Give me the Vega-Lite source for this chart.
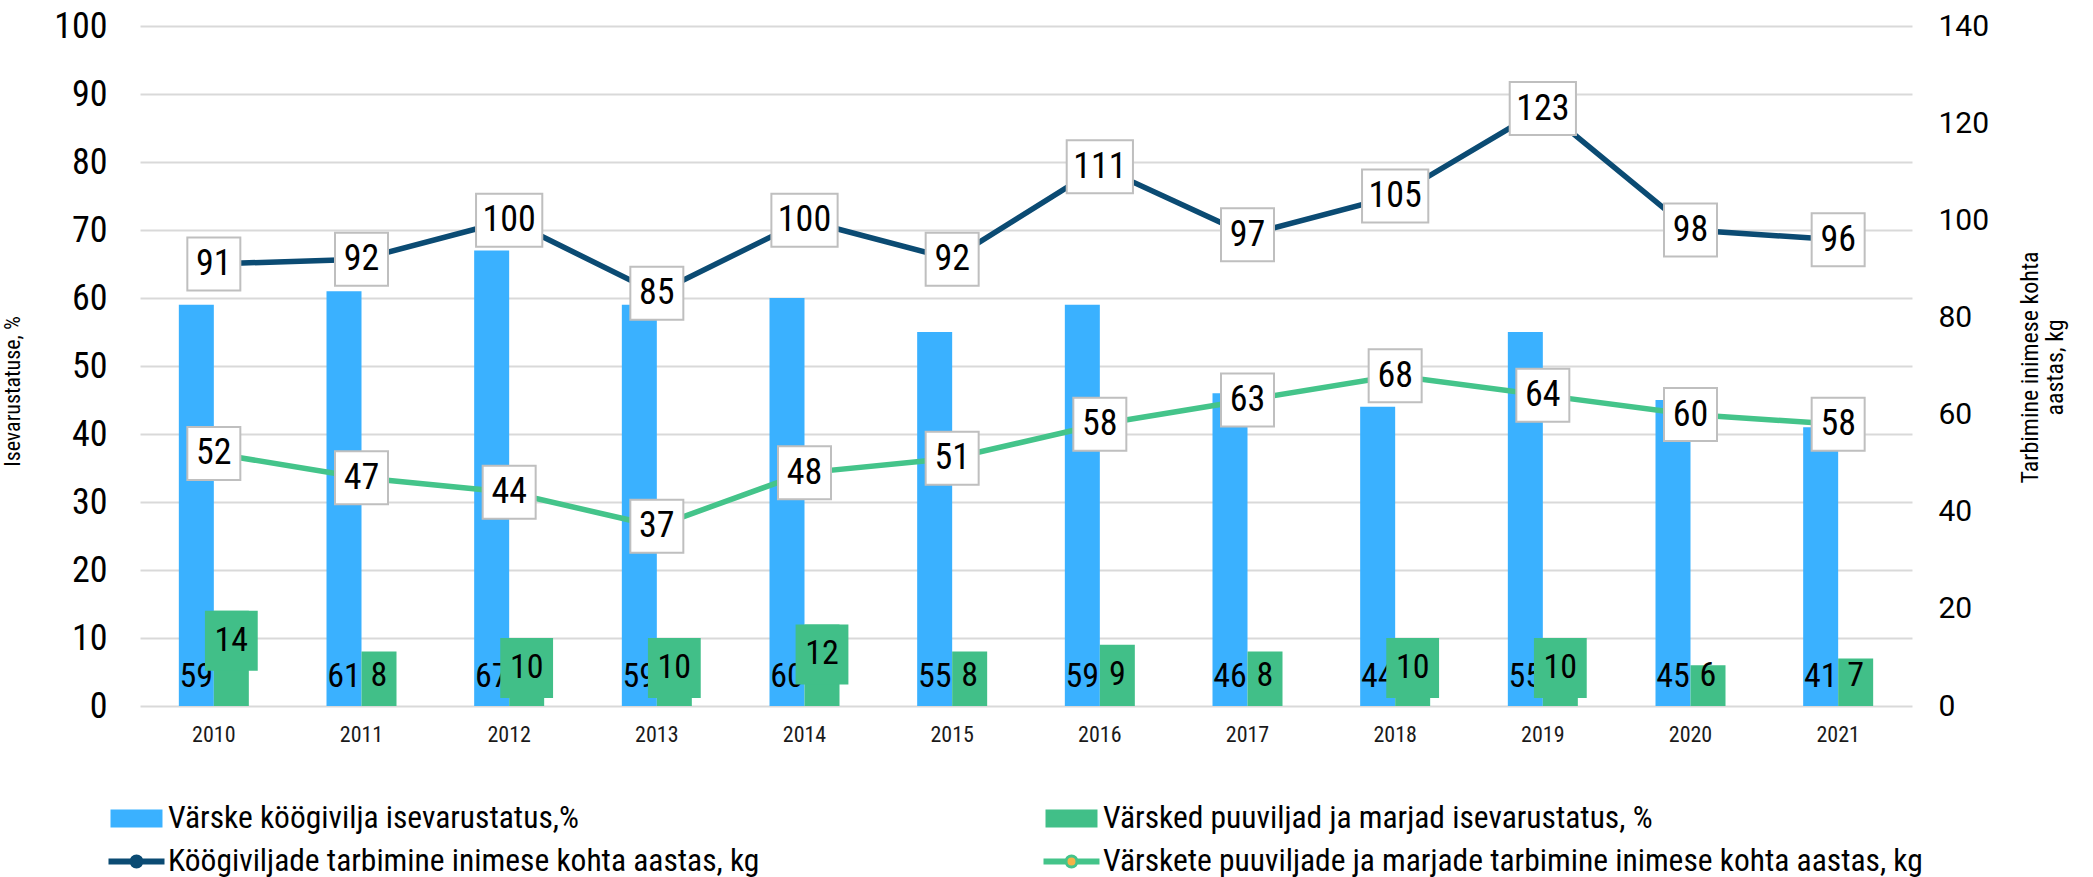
{
  "$schema": "https://vega.github.io/schema/vega-lite/v6.json",
  "width": 1772,
  "height": 680,
  "autosize": {"type": "none"},
  "padding": {"left": 140, "top": 26, "right": 181, "bottom": 171},
  "background": "white",
  "config": {
    "view": {"stroke": null},
    "font": "Roboto Condensed, Liberation Sans Narrow, DejaVu Sans Condensed, sans-serif"
  },
  "datasets": {
    "main": [
      {"year": "2010", "veg": 59, "fruit": 14, "vegc": 91, "fruitc": 52},
      {"year": "2011", "veg": 61, "fruit": 8, "vegc": 92, "fruitc": 47},
      {"year": "2012", "veg": 67, "fruit": 10, "vegc": 100, "fruitc": 44},
      {"year": "2013", "veg": 59, "fruit": 10, "vegc": 85, "fruitc": 37},
      {"year": "2014", "veg": 60, "fruit": 12, "vegc": 100, "fruitc": 48},
      {"year": "2015", "veg": 55, "fruit": 8, "vegc": 92, "fruitc": 51},
      {"year": "2016", "veg": 59, "fruit": 9, "vegc": 111, "fruitc": 58},
      {"year": "2017", "veg": 46, "fruit": 8, "vegc": 97, "fruitc": 63},
      {"year": "2018", "veg": 44, "fruit": 10, "vegc": 105, "fruitc": 68},
      {"year": "2019", "veg": 55, "fruit": 10, "vegc": 123, "fruitc": 64},
      {"year": "2020", "veg": 45, "fruit": 6, "vegc": 98, "fruitc": 60},
      {"year": "2021", "veg": 41, "fruit": 7, "vegc": 96, "fruitc": 58}
    ],
    "series": [
      {"series": "Värske köögivilja isevarustatus,%"},
      {"series": "Värsked puuviljad ja marjad isevarustatus, %"},
      {"series": "Köögiviljade tarbimine inimese kohta aastas, kg"},
      {"series": "Värskete puuviljade ja marjade tarbimine inimese kohta aastas, kg"}
    ]
  },
  "data": {"name": "main"},
  "encoding": {
    "x": {
      "field": "year",
      "type": "nominal",
      "scale": {
        "domain": ["2010", "2011", "2012", "2013", "2014", "2015", "2016", "2017", "2018", "2019", "2020", "2021"],
        "paddingInner": 0,
        "paddingOuter": 0
      },
      "axis": {
        "title": null,
        "labelAngle": 0,
        "labelFontSize": 22,
        "labelColor": "#1a1a1a",
        "labelPadding": 18,
        "ticks": false,
        "domain": false,
        "grid": false
      }
    }
  },
  "layer": [
    {
      "mark": {"type": "bar", "width": 35, "xOffset": -17.5, "color": "#3AB1FF"},
      "encoding": {
        "y": {
          "field": "veg",
          "type": "quantitative",
          "scale": {"domain": [0, 100]},
          "axis": {
            "title": "Isevarustatuse, %",
            "titleFontSize": 22,
            "titleFontWeight": "normal",
            "titleColor": "black",
            "titleX": -116,
            "titleY": 365,
            "values": [0, 10, 20, 30, 40, 50, 60, 70, 80, 90, 100],
            "labelFontSize": 36,
            "labelColor": "black",
            "labelPadding": 33,
            "ticks": false,
            "domain": false,
            "grid": true,
            "gridColor": "#d9d9d9",
            "gridWidth": 2
          }
        }
      }
    },
    {
      "mark": {"type": "text", "xOffset": -17.5, "dy": -19, "baseline": "alphabetic", "fontSize": 34, "color": "black"},
      "encoding": {
        "y": {"datum": 0, "type": "quantitative", "scale": {"domain": [0, 100]}, "axis": null},
        "text": {"field": "veg", "type": "quantitative"}
      }
    },
    {
      "mark": {"type": "bar", "width": 35, "xOffset": 17.5, "color": "#41BF88"},
      "encoding": {
        "y": {"field": "fruit", "type": "quantitative", "scale": {"domain": [0, 100]}, "axis": null}
      }
    },
    {
      "transform": [{"filter": "datum.fruit >= 10"}],
      "mark": {
        "type": "point",
        "filled": true,
        "opacity": 1,
        "color": "#41BF88",
        "xOffset": 17.5,
        "yOffset": 30,
        "size": 3600,
        "shape": "M-0.88,-1H0.88V1H-0.88Z"
      },
      "encoding": {
        "y": {"field": "fruit", "type": "quantitative", "scale": {"domain": [0, 100]}, "axis": null}
      }
    },
    {
      "transform": [{"filter": "datum.fruit >= 9"}],
      "mark": {"type": "text", "xOffset": 17.5, "dy": 30, "baseline": "middle", "fontSize": 34, "color": "black"},
      "encoding": {
        "y": {"field": "fruit", "type": "quantitative", "scale": {"domain": [0, 100]}, "axis": null},
        "text": {"field": "fruit", "type": "quantitative"}
      }
    },
    {
      "transform": [{"filter": "datum.fruit < 9"}],
      "mark": {"type": "text", "xOffset": 17.5, "dy": -30, "baseline": "middle", "fontSize": 34, "color": "black"},
      "encoding": {
        "y": {"datum": 0, "type": "quantitative", "scale": {"domain": [0, 100]}, "axis": null},
        "text": {"field": "fruit", "type": "quantitative"}
      }
    },
    {
      "mark": {"type": "line", "color": "#0B4B73", "strokeWidth": 5.5},
      "encoding": {
        "y": {
          "field": "vegc",
          "type": "quantitative",
          "scale": {"domain": [0, 140]},
          "axis": {
            "orient": "right",
            "title": ["Tarbimine  inimese kohta", "aastas, kg"],
            "titleFontSize": 24,
            "titleFontWeight": "normal",
            "titleColor": "black",
            "titleAngle": 270,
            "titleBaseline": "middle",
            "titleLineHeight": 25,
            "titleX": 118,
            "titleY": 341,
            "values": [0, 20, 40, 60, 80, 100, 120, 140],
            "labelFont": "Roboto",
            "labelFontSize": 30,
            "labelColor": "black",
            "labelPadding": 26,
            "ticks": false,
            "domain": false,
            "grid": false
          }
        }
      }
    },
    {
      "mark": {"type": "line", "color": "#44C48A", "strokeWidth": 5.5},
      "encoding": {
        "y": {"field": "fruitc", "type": "quantitative", "scale": {"domain": [0, 140]}, "axis": null}
      }
    },
    {
      "mark": {"type": "point", "filled": true, "opacity": 1, "fill": "white", "stroke": "#bfbfbf", "strokeWidth": 2, "size": 2809},
      "encoding": {
        "y": {"field": "vegc", "type": "quantitative", "scale": {"domain": [0, 140]}, "axis": null},
        "shape": {"condition": {"test": "datum.vegc >= 100", "value": "M-1.25,-1H1.25V1H-1.25Z"}, "value": "M-1,-1H1V1H-1Z"}
      }
    },
    {
      "mark": {"type": "text", "baseline": "middle", "fontSize": 36, "color": "black"},
      "encoding": {
        "y": {"field": "vegc", "type": "quantitative", "scale": {"domain": [0, 140]}, "axis": null},
        "text": {"field": "vegc", "type": "quantitative"}
      }
    },
    {
      "mark": {"type": "point", "filled": true, "opacity": 1, "fill": "white", "stroke": "#bfbfbf", "strokeWidth": 2, "size": 2809, "shape": "M-1,-1H1V1H-1Z"},
      "encoding": {
        "y": {"field": "fruitc", "type": "quantitative", "scale": {"domain": [0, 140]}, "axis": null}
      }
    },
    {
      "mark": {"type": "text", "baseline": "middle", "fontSize": 36, "color": "black"},
      "encoding": {
        "y": {"field": "fruitc", "type": "quantitative", "scale": {"domain": [0, 140]}, "axis": null},
        "text": {"field": "fruitc", "type": "quantitative"}
      }
    },
    {
      "data": {"name": "series"},
      "mark": {"type": "point", "filled": true, "opacity": 0},
      "encoding": {
        "x": {"value": 0},
        "y": {"value": 0},
        "color": {
          "field": "series",
          "type": "nominal",
          "scale": {
            "domain": [
              "Värske köögivilja isevarustatus,%",
              "Köögiviljade tarbimine inimese kohta aastas, kg",
              "Värsked puuviljad ja marjad isevarustatus, %",
              "Värskete puuviljade ja marjade tarbimine inimese kohta aastas, kg"
            ],
            "range": ["#3AB1FF", "#0B4B73", "#41BF88", "#F5B247"]
          },
          "legend": {
            "orient": "none",
            "legendX": -31,
            "legendY": 765,
            "columns": 2,
            "title": null,
            "symbolOpacity": 1,
            "symbolSize": 2704,
            "symbolStrokeWidth": 3,
            "labelFontSize": 31.5,
            "labelColor": "black",
            "labelLimit": 1000,
            "labelOffset": 4,
            "columnPadding": 277,
            "rowPadding": 0
          }
        },
        "stroke": {
          "field": "series",
          "type": "nominal",
          "scale": {
            "domain": [
              "Värske köögivilja isevarustatus,%",
              "Köögiviljade tarbimine inimese kohta aastas, kg",
              "Värsked puuviljad ja marjad isevarustatus, %",
              "Värskete puuviljade ja marjade tarbimine inimese kohta aastas, kg"
            ],
            "range": ["#3AB1FF", "#0B4B73", "#41BF88", "#44C48A"]
          },
          "legend": {
            "orient": "none",
            "legendX": -31,
            "legendY": 765,
            "columns": 2,
            "title": null,
            "symbolOpacity": 1,
            "symbolSize": 2704,
            "symbolStrokeWidth": 3,
            "labelFontSize": 31.5,
            "labelColor": "black",
            "labelLimit": 1000,
            "labelOffset": 4,
            "columnPadding": 277,
            "rowPadding": 0
          }
        },
        "shape": {
          "field": "series",
          "type": "nominal",
          "scale": {
            "domain": [
              "Värske köögivilja isevarustatus,%",
              "Köögiviljade tarbimine inimese kohta aastas, kg",
              "Värsked puuviljad ja marjad isevarustatus, %",
              "Värskete puuviljade ja marjade tarbimine inimese kohta aastas, kg"
            ],
            "range": [
              "M-0.942,-0.288H0.942V0.288H-0.942Z",
              "M-1.077,-0.058H-0.21 M-1.077,0.058H-0.21 M0.21,-0.058H1.077 M0.21,0.058H1.077 M0.2115,0A0.2115,0.2115 0 1,1 -0.2115,0A0.2115,0.2115 0 1,1 0.2115,0Z",
              "M-0.942,-0.288H0.942V0.288H-0.942Z",
              "M-1.077,-0.058H-0.21 M-1.077,0.058H-0.21 M0.21,-0.058H1.077 M0.21,0.058H1.077 M0.2115,0A0.2115,0.2115 0 1,1 -0.2115,0A0.2115,0.2115 0 1,1 0.2115,0Z"
            ]
          },
          "legend": {
            "orient": "none",
            "legendX": -31,
            "legendY": 765,
            "columns": 2,
            "title": null,
            "symbolOpacity": 1,
            "symbolSize": 2704,
            "symbolStrokeWidth": 3,
            "labelFontSize": 31.5,
            "labelColor": "black",
            "labelLimit": 1000,
            "labelOffset": 4,
            "columnPadding": 277,
            "rowPadding": 0
          }
        }
      }
    }
  ],
  "resolve": {"scale": {"y": "independent"}}
}
